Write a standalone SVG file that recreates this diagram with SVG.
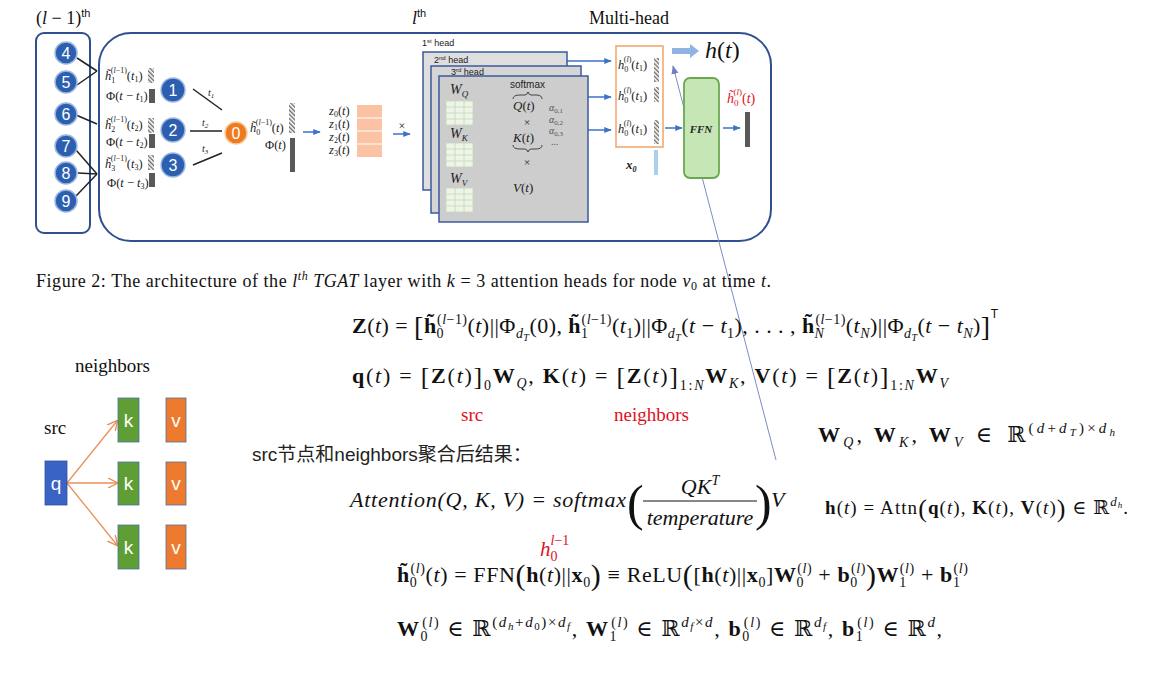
<svg xmlns="http://www.w3.org/2000/svg" width="1151" height="681" viewBox="0 0 1151 681">
<style>
.m{font-family:"Liberation Serif","DejaVu Serif",serif;font-size:22px;fill:#111}
.sm{font-family:"Liberation Serif","DejaVu Serif",serif;font-size:12.5px;fill:#222}
.b{font-weight:bold}
.i{font-style:italic}
.nd{fill:#2c5fb0;stroke:#9db8e0;stroke-width:1.5}
.nt{font-family:"Liberation Sans",sans-serif;font-size:16px;fill:#fff;text-anchor:middle}
.blk{stroke:#222;stroke-width:1.5;fill:none}
.bl{stroke:#3d72c9;stroke-width:1.5;fill:none;marker-end:url(#ab)}
.frame{fill:none;stroke:#2f4f8f;stroke-width:2}
.head{stroke:#3a5a9c;stroke-width:1.5}
.grid{fill:#eef4e8;stroke:#c3d8b8;stroke-width:0.8}
.dark{fill:#595959}
.red{fill:#e0101e}
.oa{stroke:#e8915a;stroke-width:1.3;fill:none;marker-end:url(#oa)}
</style>
<defs>
<marker id="ab" viewBox="0 0 10 10" refX="9" refY="5" markerWidth="5" markerHeight="5" orient="auto"><path d="M0,1 L10,5 L0,9z" fill="#3d72c9"/></marker>
<marker id="oa" viewBox="0 0 10 10" refX="9" refY="5" markerWidth="8" markerHeight="8" orient="auto"><path d="M0,0 L10,5 L0,10" fill="none" stroke="#e8915a" stroke-width="1.3"/></marker>
<marker id="ta" viewBox="0 0 10 10" refX="9" refY="5" markerWidth="9" markerHeight="9" orient="auto"><path d="M0,1 L10,5 L0,9z" fill="#6f82c0"/></marker>
<pattern id="hatch" width="3" height="3" patternUnits="userSpaceOnUse" patternTransform="rotate(-45)"><rect width="3" height="3" fill="#fff"/><rect width="1.4" height="3" fill="#6b6b6b"/></pattern>
</defs>
<rect width="1151" height="681" fill="#fff"/>

<!-- top labels -->
<g id="labels-top">
<text x="36" y="24" font-family="Liberation Serif,serif" font-size="18" fill="#111">(<tspan font-style="italic">l</tspan> − 1)<tspan font-family="Liberation Sans,sans-serif" font-size="11" dy="-7">th</tspan></text>
<text x="412" y="24" font-family="Liberation Serif,serif" font-size="18" fill="#111"><tspan font-style="italic">l</tspan><tspan font-family="Liberation Sans,sans-serif" font-size="11" dy="-7">th</tspan></text>
<text x="589" y="24" font-family="Liberation Serif,serif" font-size="18" fill="#111">Multi-head</text>
</g>

<!-- frames -->
<g id="frame-prev"><rect class="frame" x="36" y="33" width="54" height="200" rx="8"/></g>
<g id="frame-layer"><rect class="frame" x="99" y="33" width="672" height="208" rx="32"/></g>

<!-- connectors -->
<g id="connectors">
<line class="blk" x1="77" y1="58" x2="97" y2="71"/>
<line class="blk" x1="77" y1="85" x2="97" y2="71"/>
<line class="blk" x1="76" y1="115" x2="97" y2="124"/>
<line class="blk" x1="76" y1="150" x2="97" y2="174"/>
<line class="blk" x1="78" y1="173" x2="97" y2="174"/>
<line class="blk" x1="76" y1="196" x2="97" y2="174"/>
<line class="blk" x1="193" y1="89" x2="222" y2="110"/>
<line class="blk" x1="190" y1="131" x2="222" y2="131"/>
<line class="blk" x1="193" y1="165" x2="222" y2="153"/>
<line class="bl" x1="303" y1="132" x2="320" y2="132"/>
<line class="bl" x1="393" y1="134" x2="410" y2="134"/>
<line class="bl" x1="483" y1="107" x2="498" y2="107"/>
<line class="bl" x1="483" y1="144" x2="498" y2="144"/>
<line class="bl" x1="483" y1="188" x2="498" y2="188"/>
<line class="bl" x1="567" y1="61" x2="611" y2="61"/>
<line class="bl" x1="588" y1="97" x2="611" y2="97"/>
<line class="bl" x1="588" y1="130" x2="611" y2="130"/>
<line class="bl" x1="665" y1="128" x2="682" y2="128"/>
<line class="bl" x1="723" y1="128" x2="740" y2="128"/>
<path d="M672,48 H690 V44 L699,51 L690,58 V54 H672 Z" fill="#8fb4e3"/>
<line x1="776" y1="460" x2="673" y2="66" stroke="#7d8cc4" stroke-width="1" marker-end="url(#ta)"/>
<line class="oa" x1="67" y1="483" x2="117" y2="421"/>
<line class="oa" x1="67" y1="483" x2="117" y2="483"/>
<line class="oa" x1="67" y1="483" x2="117" y2="545"/>
</g>

<!-- previous-layer nodes -->
<g id="node-4"><circle class="nd" cx="66" cy="53" r="11"/><text class="nt" x="66" y="59">4</text></g>
<g id="node-5"><circle class="nd" cx="66" cy="82" r="11"/><text class="nt" x="66" y="88">5</text></g>
<g id="node-6"><circle class="nd" cx="66" cy="114" r="11"/><text class="nt" x="66" y="120">6</text></g>
<g id="node-7"><circle class="nd" cx="66" cy="146" r="11"/><text class="nt" x="66" y="152">7</text></g>
<g id="node-8"><circle class="nd" cx="66" cy="173" r="11"/><text class="nt" x="66" y="179">8</text></g>
<g id="node-9"><circle class="nd" cx="66" cy="201" r="11"/><text class="nt" x="66" y="207">9</text></g>

<!-- neighbor features -->
<g id="feat-1">
<text class="sm" x="105" y="80"><tspan class="i">h&#x303;</tspan><tspan font-size="8" dy="3">1</tspan><tspan font-size="8" dx="-4.5" dy="-10">(<tspan class="i">l</tspan>−1)</tspan><tspan dy="7">(</tspan><tspan class="i">t</tspan><tspan font-size="8" dy="2">1</tspan><tspan dy="-2">)</tspan></text>
<rect x="148" y="68" width="6" height="15" fill="url(#hatch)"/>
<text class="sm" x="106" y="100">Φ(<tspan class="i">t</tspan> − <tspan class="i">t</tspan><tspan font-size="8" dy="2">1</tspan><tspan dy="-2">)</tspan></text>
<rect class="dark" x="149" y="89" width="6" height="14"/>
</g>
<g id="feat-2">
<text class="sm" x="105" y="129"><tspan class="i">h&#x303;</tspan><tspan font-size="8" dy="3">2</tspan><tspan font-size="8" dx="-4.5" dy="-10">(<tspan class="i">l</tspan>−1)</tspan><tspan dy="7">(</tspan><tspan class="i">t</tspan><tspan font-size="8" dy="2">2</tspan><tspan dy="-2">)</tspan></text>
<rect x="148" y="118" width="6" height="15" fill="url(#hatch)"/>
<text class="sm" x="106" y="146">Φ(<tspan class="i">t</tspan> − <tspan class="i">t</tspan><tspan font-size="8" dy="2">2</tspan><tspan dy="-2">)</tspan></text>
<rect class="dark" x="149" y="134" width="6" height="14"/>
</g>
<g id="feat-3">
<text class="sm" x="105" y="168"><tspan class="i">h&#x303;</tspan><tspan font-size="8" dy="3">3</tspan><tspan font-size="8" dx="-4.5" dy="-10">(<tspan class="i">l</tspan>−1)</tspan><tspan dy="7">(</tspan><tspan class="i">t</tspan><tspan font-size="8" dy="2">3</tspan><tspan dy="-2">)</tspan></text>
<rect x="148" y="155" width="6" height="15" fill="url(#hatch)"/>
<text class="sm" x="107" y="187">Φ(<tspan class="i">t</tspan> − <tspan class="i">t</tspan><tspan font-size="8" dy="2">3</tspan><tspan dy="-2">)</tspan></text>
<rect class="dark" x="149" y="173" width="6" height="14"/>
</g>

<!-- layer nodes -->
<g id="node-1"><circle class="nd" cx="173" cy="90" r="12"/><text class="nt" x="173" y="96">1</text></g>
<g id="node-2"><circle class="nd" cx="173" cy="130" r="12"/><text class="nt" x="173" y="136">2</text></g>
<g id="node-3"><circle class="nd" cx="173" cy="165" r="12"/><text class="nt" x="173" y="171">3</text></g>
<g id="edge-labels" font-family="Liberation Serif,serif" font-size="10" font-style="italic" fill="#222">
<text x="208" y="96">t<tspan font-size="7" dy="2">1</tspan></text>
<text x="202" y="126">t<tspan font-size="7" dy="2">2</tspan></text>
<text x="202" y="152">t<tspan font-size="7" dy="2">3</tspan></text>
</g>
<g id="node-0"><circle cx="236" cy="133" r="11" fill="#ef7b1f" stroke="#f7c9a0" stroke-width="1.5"/><text class="nt" x="236" y="139">0</text></g>

<g id="feat-0">
<text class="sm" x="250" y="132"><tspan class="i">h&#x303;</tspan><tspan font-size="8" dy="3">0</tspan><tspan font-size="8" dx="-4.5" dy="-10">(<tspan class="i">l</tspan>−1)</tspan><tspan dy="7">(</tspan><tspan class="i">t</tspan>)</text>
<rect x="289" y="103" width="6" height="30" fill="url(#hatch)"/>
<text class="sm" x="265" y="149">Φ(<tspan class="i">t</tspan>)</text>
<rect class="dark" x="290" y="138" width="5" height="34"/>
</g>

<g id="z-matrix">
<text class="sm" x="329" y="115"><tspan class="i">z</tspan><tspan font-size="8" dy="2">0</tspan><tspan dy="-2">(</tspan><tspan class="i">t</tspan>)</text>
<text class="sm" x="329" y="128"><tspan class="i">z</tspan><tspan font-size="8" dy="2">1</tspan><tspan dy="-2">(</tspan><tspan class="i">t</tspan>)</text>
<text class="sm" x="329" y="141"><tspan class="i">z</tspan><tspan font-size="8" dy="2">2</tspan><tspan dy="-2">(</tspan><tspan class="i">t</tspan>)</text>
<text class="sm" x="329" y="154"><tspan class="i">z</tspan><tspan font-size="8" dy="2">3</tspan><tspan dy="-2">(</tspan><tspan class="i">t</tspan>)</text>
<rect x="357" y="105" width="25" height="52" fill="#fbc3a3"/>
<path d="M357,118 H382 M357,131 H382 M357,144 H382" stroke="#fff" stroke-width="1"/>
<text x="402" y="130" text-anchor="middle" font-family="Liberation Serif,serif" font-size="12" fill="#222">×</text>
</g>

<!-- heads -->
<g id="head-1"><text x="422" y="46" font-family="Liberation Sans,sans-serif" font-size="9" fill="#222">1<tspan font-size="6" dy="-3">st</tspan><tspan dy="3"> head</tspan></text></g>
<g id="head-2"><rect class="head" x="423" y="52" width="144" height="138" fill="#dedede"/><text x="434" y="63" font-family="Liberation Sans,sans-serif" font-size="9" fill="#222">2<tspan font-size="6" dy="-3">nd</tspan><tspan dy="3">  head</tspan></text></g>
<g id="head-3"><rect class="head" x="431" y="66" width="150" height="147" fill="#d5d5d5"/><text x="451" y="75" font-family="Liberation Sans,sans-serif" font-size="9" fill="#222">3<tspan font-size="6" dy="-3">rd</tspan><tspan dy="3"> head</tspan></text></g>
<g id="head-front">
<rect class="head" x="439" y="76" width="149" height="146" fill="#cdcdcd"/>
<g font-family="Liberation Serif,serif" font-size="14" font-style="italic" fill="#222">
<text x="450" y="94">W<tspan font-size="9" dy="3">Q</tspan></text>
<text x="450" y="138">W<tspan font-size="9" dy="3">K</tspan></text>
<text x="450" y="183">W<tspan font-size="9" dy="3">V</tspan></text>
</g>
<g class="grid">
<rect x="446" y="101" width="27" height="24"/><path d="M455,101 V125 M464,101 V125 M446,107 H473 M446,113 H473 M446,119 H473"/>
<rect x="446" y="143" width="27" height="24"/><path d="M455,143 V167 M464,143 V167 M446,149 H473 M446,155 H473 M446,161 H473"/>
<rect x="446" y="188" width="27" height="24"/><path d="M455,188 V212 M464,188 V212 M446,194 H473 M446,200 H473 M446,206 H473"/>
</g>
<text x="510" y="88" font-family="Liberation Sans,sans-serif" font-size="10" fill="#222">softmax</text>
<path d="M513,99 Q513,95 520,95 L525,95 Q527,95 528,92 Q529,95 531,95 L536,95 Q542,95 542,99" fill="none" stroke="#333" stroke-width="0.9"/>
<g font-family="Liberation Serif,serif" font-size="13" fill="#222">
<text x="513" y="110"><tspan font-style="italic">Q</tspan>(<tspan font-style="italic">t</tspan>)</text>
<text x="527" y="126" font-size="11" text-anchor="middle">×</text>
<text x="513" y="142"><tspan font-style="italic">K</tspan>(<tspan font-style="italic">t</tspan>)</text>
<text x="527" y="166" font-size="11" text-anchor="middle">×</text>
<text x="513" y="192"><tspan font-style="italic">V</tspan>(<tspan font-style="italic">t</tspan>)</text>
</g>
<path d="M513,145 Q513,149 520,149 L525,149 Q527,149 528,152 Q529,149 531,149 L536,149 Q542,149 542,145" fill="none" stroke="#333" stroke-width="0.9"/>
<g fill="#555" font-family="Liberation Serif,serif" font-size="10" font-style="italic">
<text x="549" y="111">α<tspan font-size="7" font-style="normal" dy="2">0,1</tspan></text>
<text x="549" y="123">α<tspan font-size="7" font-style="normal" dy="2">0,2</tspan></text>
<text x="549" y="134">α<tspan font-size="7" font-style="normal" dy="2">0,3</tspan></text>
<text x="551" y="145" font-style="normal">...</text>
</g>
</g>

<!-- concat of heads -->
<g id="concat">
<rect x="616" y="46" width="47" height="101" fill="#fff" stroke="#f0a46a" stroke-width="1.5"/>
<text class="sm" x="618" y="69"><tspan class="i">h</tspan><tspan font-size="8" dy="3">0</tspan><tspan font-size="8" dx="-4.5" dy="-10">(<tspan class="i">l</tspan>)</tspan><tspan dy="7">(</tspan><tspan class="i">t</tspan><tspan font-size="8" dy="2">1</tspan><tspan dy="-2">)</tspan></text>
<text class="sm" x="618" y="100"><tspan class="i">h</tspan><tspan font-size="8" dy="3">0</tspan><tspan font-size="8" dx="-4.5" dy="-10">(<tspan class="i">l</tspan>)</tspan><tspan dy="7">(</tspan><tspan class="i">t</tspan><tspan font-size="8" dy="2">1</tspan><tspan dy="-2">)</tspan></text>
<text class="sm" x="618" y="133"><tspan class="i">h</tspan><tspan font-size="8" dy="3">0</tspan><tspan font-size="8" dx="-4.5" dy="-10">(<tspan class="i">l</tspan>)</tspan><tspan dy="7">(</tspan><tspan class="i">t</tspan><tspan font-size="8" dy="2">1</tspan><tspan dy="-2">)</tspan></text>
<rect x="654" y="58" width="5" height="24" fill="url(#hatch)"/>
<rect x="654" y="87" width="5" height="15" fill="url(#hatch)"/>
<rect x="654" y="120" width="5" height="24" fill="url(#hatch)"/>
</g>
<g id="x0">
<rect x="654" y="150" width="4" height="25" fill="#a9d0ee"/>
<text x="626" y="169" font-family="Liberation Serif,serif" font-size="13" font-weight="bold" font-style="italic" fill="#222">x<tspan font-size="8" dy="3">0</tspan></text>
</g>
<g id="ht-label"><text x="705" y="58" font-family="Liberation Serif,serif" font-size="24" fill="#111"><tspan font-style="italic">h</tspan>(<tspan font-style="italic">t</tspan>)</text></g>
<g id="ffn">
<rect x="684" y="78" width="35" height="100" rx="6" fill="#c6e6b6" stroke="#6aa84f" stroke-width="1.8"/>
<text x="701" y="133" text-anchor="middle" font-family="Liberation Serif,serif" font-size="11" font-weight="bold" font-style="italic" fill="#222">FFN</text>
</g>
<g id="out">
<text x="727" y="103" font-family="Liberation Serif,serif" font-size="14" class="red"><tspan font-style="italic">h&#x303;</tspan><tspan font-size="9" dy="3">0</tspan><tspan font-size="9" dx="-5" dy="-11">(<tspan font-style="italic">l</tspan>)</tspan><tspan dy="8">(</tspan><tspan font-style="italic">t</tspan>)</text>
<rect class="dark" x="745" y="112" width="5" height="35"/>
</g>

<!-- caption -->
<text x="36" y="287" font-family="Liberation Serif,serif" font-size="18" fill="#111" textLength="735">Figure 2: The architecture of the <tspan font-style="italic">l</tspan><tspan font-style="italic" font-size="12" dy="-7">th</tspan><tspan dy="7" font-style="italic"> TGAT</tspan> layer with <tspan font-style="italic">k</tspan> = 3 attention heads for node <tspan font-style="italic">v</tspan><tspan font-size="12" dy="3">0</tspan><tspan dy="-3"> at time </tspan><tspan font-style="italic">t</tspan>.</text>

<!-- left mini diagram -->
<g id="lbl-neighbors"><text x="75" y="372" font-family="Liberation Serif,serif" font-size="19" fill="#111">neighbors</text></g>
<g id="lbl-src"><text x="44" y="434" font-family="Liberation Serif,serif" font-size="19" fill="#111">src</text></g>
<g font-family="Liberation Sans,sans-serif" font-size="19" fill="#fff" text-anchor="middle">
<g id="q"><rect x="45" y="461" width="22" height="44" fill="#3a63c6" stroke="#2f4f9a" stroke-width="0.8"/><text x="56" y="490">q</text></g>
<g id="k1"><rect x="118" y="398" width="21" height="44" fill="#5f9e34" stroke="#4a6ea8" stroke-width="0.8"/><text x="128.5" y="427">k</text></g>
<g id="k2"><rect x="118" y="462" width="21" height="43" fill="#5f9e34" stroke="#4a6ea8" stroke-width="0.8"/><text x="128.5" y="490">k</text></g>
<g id="k3"><rect x="118" y="525" width="21" height="44" fill="#5f9e34" stroke="#4a6ea8" stroke-width="0.8"/><text x="128.5" y="554">k</text></g>
<g id="v1"><rect x="166" y="398" width="20" height="44" fill="#ee7a2d" stroke="#4a6ea8" stroke-width="0.8"/><text x="176" y="427">v</text></g>
<g id="v2"><rect x="166" y="462" width="20" height="43" fill="#ee7a2d" stroke="#4a6ea8" stroke-width="0.8"/><text x="176" y="490">v</text></g>
<g id="v3"><rect x="166" y="525" width="20" height="44" fill="#ee7a2d" stroke="#4a6ea8" stroke-width="0.8"/><text x="176" y="554">v</text></g>
</g>

<!-- formulas -->
<g id="formulas">
<text class="m" x="352" y="333" textLength="646"><tspan class="b">Z</tspan>(<tspan class="i">t</tspan>) = <tspan font-size="28" dy="3">[</tspan><tspan class="b" dy="-3">h&#x303;</tspan><tspan font-size="14" dy="5">0</tspan><tspan font-size="14" dx="-7" dy="-14">(<tspan class="i">l</tspan>−1)</tspan><tspan dy="9">(<tspan class="i">t</tspan>)||Φ</tspan><tspan font-size="14" class="i" dy="5">d</tspan><tspan font-size="10" class="i" dy="3">T</tspan><tspan dy="-8">(0), </tspan><tspan class="b">h&#x303;</tspan><tspan font-size="14" dy="5">1</tspan><tspan font-size="14" dx="-7" dy="-14">(<tspan class="i">l</tspan>−1)</tspan><tspan dy="9">(<tspan class="i">t</tspan></tspan><tspan font-size="14" dy="5">1</tspan><tspan dy="-5">)||Φ</tspan><tspan font-size="14" class="i" dy="5">d</tspan><tspan font-size="10" class="i" dy="3">T</tspan><tspan dy="-8">(<tspan class="i">t</tspan> − <tspan class="i">t</tspan></tspan><tspan font-size="14" dy="5">1</tspan><tspan dy="-5">), . . . , </tspan><tspan class="b">h&#x303;</tspan><tspan font-size="14" class="i" dy="5">N</tspan><tspan font-size="14" dx="-9" dy="-14">(<tspan class="i">l</tspan>−1)</tspan><tspan dy="9">(<tspan class="i">t</tspan></tspan><tspan font-size="14" class="i" dy="5">N</tspan><tspan dy="-5">)||Φ</tspan><tspan font-size="14" class="i" dy="5">d</tspan><tspan font-size="10" class="i" dy="3">T</tspan><tspan dy="-8">(<tspan class="i">t</tspan> − <tspan class="i">t</tspan></tspan><tspan font-size="14" class="i" dy="5">N</tspan><tspan dy="-5">)</tspan><tspan font-size="28" dy="3">]</tspan><tspan font-size="12" font-family="Liberation Sans,sans-serif" dy="-18">T</tspan></text>

<text class="m" x="352" y="383" textLength="596"><tspan class="b">q</tspan>(<tspan class="i">t</tspan>) = <tspan font-size="26" dy="2">[</tspan><tspan class="b" dy="-2">Z</tspan>(<tspan class="i">t</tspan>)<tspan font-size="26" dy="2">]</tspan><tspan font-size="14" dy="5">0</tspan><tspan class="b" dy="-7">W</tspan><tspan font-size="14" class="i" dy="5">Q</tspan><tspan dy="-5">, </tspan><tspan class="b">K</tspan>(<tspan class="i">t</tspan>) = <tspan font-size="26" dy="2">[</tspan><tspan class="b" dy="-2">Z</tspan>(<tspan class="i">t</tspan>)<tspan font-size="26" dy="2">]</tspan><tspan font-size="14" dy="5">1:<tspan class="i">N</tspan></tspan><tspan class="b" dy="-7">W</tspan><tspan font-size="14" class="i" dy="5">K</tspan><tspan dy="-5">, </tspan><tspan class="b">V</tspan>(<tspan class="i">t</tspan>) = <tspan font-size="26" dy="2">[</tspan><tspan class="b" dy="-2">Z</tspan>(<tspan class="i">t</tspan>)<tspan font-size="26" dy="2">]</tspan><tspan font-size="14" dy="5">1:<tspan class="i">N</tspan></tspan><tspan class="b" dy="-7">W</tspan><tspan font-size="14" class="i" dy="5">V</tspan></text>

<text x="461" y="421" font-family="Liberation Serif,serif" font-size="19" class="red">src</text>
<text x="614" y="421" font-family="Liberation Serif,serif" font-size="19" class="red">neighbors</text>

<text class="m" x="818" y="442" textLength="297"><tspan class="b">W</tspan><tspan font-size="14" class="i" dy="5">Q</tspan><tspan dy="-5">, </tspan><tspan class="b">W</tspan><tspan font-size="14" class="i" dy="5">K</tspan><tspan dy="-5">, </tspan><tspan class="b">W</tspan><tspan font-size="14" class="i" dy="5">V</tspan><tspan dy="-5" dx="10">∈</tspan><tspan dx="12">ℝ</tspan><tspan font-size="15" dy="-9">(<tspan class="i">d</tspan>+<tspan class="i">d</tspan></tspan><tspan font-size="11" class="i" dy="3">T</tspan><tspan font-size="15" dy="-3">)×<tspan class="i">d</tspan></tspan><tspan font-size="11" class="i" dy="3">h</tspan></text>

<text x="252" y="461" font-family="Liberation Sans,'Noto Sans CJK SC',sans-serif" font-size="19" fill="#222">src节点和neighbors聚合后结果：</text>

<g id="attention-formula" font-family="Liberation Serif,'DejaVu Serif',serif" fill="#111" font-style="italic">
<text x="350" y="507" font-size="22" textLength="276">Attention(Q, K, V) = softmax</text>
<text x="627" y="520" font-size="50" font-style="normal" font-weight="normal">(</text>
<text x="700" y="494" font-size="22" text-anchor="middle">QK<tspan font-size="14" dy="-9">T</tspan></text>
<line x1="643" y1="501" x2="757" y2="501" stroke="#111" stroke-width="1.2"/>
<text x="700" y="525" font-size="22" text-anchor="middle">temperature</text>
<text x="755" y="520" font-size="50" font-style="normal">)</text>
<text x="771" y="507" font-size="22">V</text>
</g>

<text x="825" y="514" font-family="Liberation Serif,'DejaVu Serif',serif" font-size="19" fill="#111" textLength="303"><tspan class="b">h</tspan>(<tspan class="i">t</tspan>) = Attn<tspan font-size="26" dy="3">(</tspan><tspan class="b" dy="-3">q</tspan>(<tspan class="i">t</tspan>), <tspan class="b">K</tspan>(<tspan class="i">t</tspan>), <tspan class="b">V</tspan>(<tspan class="i">t</tspan>)<tspan font-size="26" dy="3">)</tspan><tspan dy="-3"> ∈ ℝ</tspan><tspan font-size="13" class="i" dy="-8">d</tspan><tspan font-size="9" class="i" dy="2">h</tspan><tspan dy="6">.</tspan></text>

<text x="540" y="556" font-family="Liberation Serif,serif" font-size="21" font-style="italic" class="red">h<tspan font-size="14" font-style="normal" dy="5">0</tspan><tspan font-size="14" dx="-7" dy="-16">l<tspan font-style="normal">−1</tspan></tspan></text>

<text class="m" x="397" y="582" textLength="571"><tspan class="b">h&#x303;</tspan><tspan font-size="14" dy="5">0</tspan><tspan font-size="14" dx="-7" dy="-14">(<tspan class="i">l</tspan>)</tspan><tspan dy="9">(<tspan class="i">t</tspan>) = FFN</tspan><tspan font-size="30" dy="3">(</tspan><tspan class="b" dy="-3">h</tspan>(<tspan class="i">t</tspan>)||<tspan class="b">x</tspan><tspan font-size="14" dy="5">0</tspan><tspan font-size="30" dy="-2">)</tspan><tspan dy="-3"> ≡ ReLU</tspan><tspan font-size="30" dy="3">(</tspan><tspan dy="-3">[</tspan><tspan class="b">h</tspan>(<tspan class="i">t</tspan>)||<tspan class="b">x</tspan><tspan font-size="14" dy="5">0</tspan><tspan dy="-5">]</tspan><tspan class="b">W</tspan><tspan font-size="14" dy="5">0</tspan><tspan font-size="14" dx="-7" dy="-14">(<tspan class="i">l</tspan>)</tspan><tspan dy="9"> + </tspan><tspan class="b">b</tspan><tspan font-size="14" dy="5">0</tspan><tspan font-size="14" dx="-7" dy="-14">(<tspan class="i">l</tspan>)</tspan><tspan font-size="30" dy="12">)</tspan><tspan class="b" dy="-3">W</tspan><tspan font-size="14" dy="5">1</tspan><tspan font-size="14" dx="-7" dy="-14">(<tspan class="i">l</tspan>)</tspan><tspan dy="9"> + </tspan><tspan class="b">b</tspan><tspan font-size="14" dy="5">1</tspan><tspan font-size="14" dx="-7" dy="-14">(<tspan class="i">l</tspan>)</tspan></text>

<text class="m" x="397" y="636" textLength="545"><tspan class="b">W</tspan><tspan font-size="14" dy="5">0</tspan><tspan font-size="14" dx="-7" dy="-14">(<tspan class="i">l</tspan>)</tspan><tspan dy="9"> ∈ ℝ</tspan><tspan font-size="15" dy="-9">(<tspan class="i">d</tspan></tspan><tspan font-size="11" class="i" dy="3">h</tspan><tspan font-size="15" dy="-3">+<tspan class="i">d</tspan></tspan><tspan font-size="11" dy="3">0</tspan><tspan font-size="15" dy="-3">)×<tspan class="i">d</tspan></tspan><tspan font-size="11" class="i" dy="3">f</tspan><tspan dy="6">, </tspan><tspan class="b">W</tspan><tspan font-size="14" dy="5">1</tspan><tspan font-size="14" dx="-7" dy="-14">(<tspan class="i">l</tspan>)</tspan><tspan dy="9"> ∈ ℝ</tspan><tspan font-size="15" class="i" dy="-9">d</tspan><tspan font-size="11" class="i" dy="3">f</tspan><tspan font-size="15" dy="-3">×<tspan class="i">d</tspan></tspan><tspan dy="9">, </tspan><tspan class="b">b</tspan><tspan font-size="14" dy="5">0</tspan><tspan font-size="14" dx="-7" dy="-14">(<tspan class="i">l</tspan>)</tspan><tspan dy="9"> ∈ ℝ</tspan><tspan font-size="15" class="i" dy="-9">d</tspan><tspan font-size="11" class="i" dy="3">f</tspan><tspan dy="6">, </tspan><tspan class="b">b</tspan><tspan font-size="14" dy="5">1</tspan><tspan font-size="14" dx="-7" dy="-14">(<tspan class="i">l</tspan>)</tspan><tspan dy="9"> ∈ ℝ</tspan><tspan font-size="15" class="i" dy="-9">d</tspan><tspan dy="9">,</tspan></text>
</g>
</svg>
